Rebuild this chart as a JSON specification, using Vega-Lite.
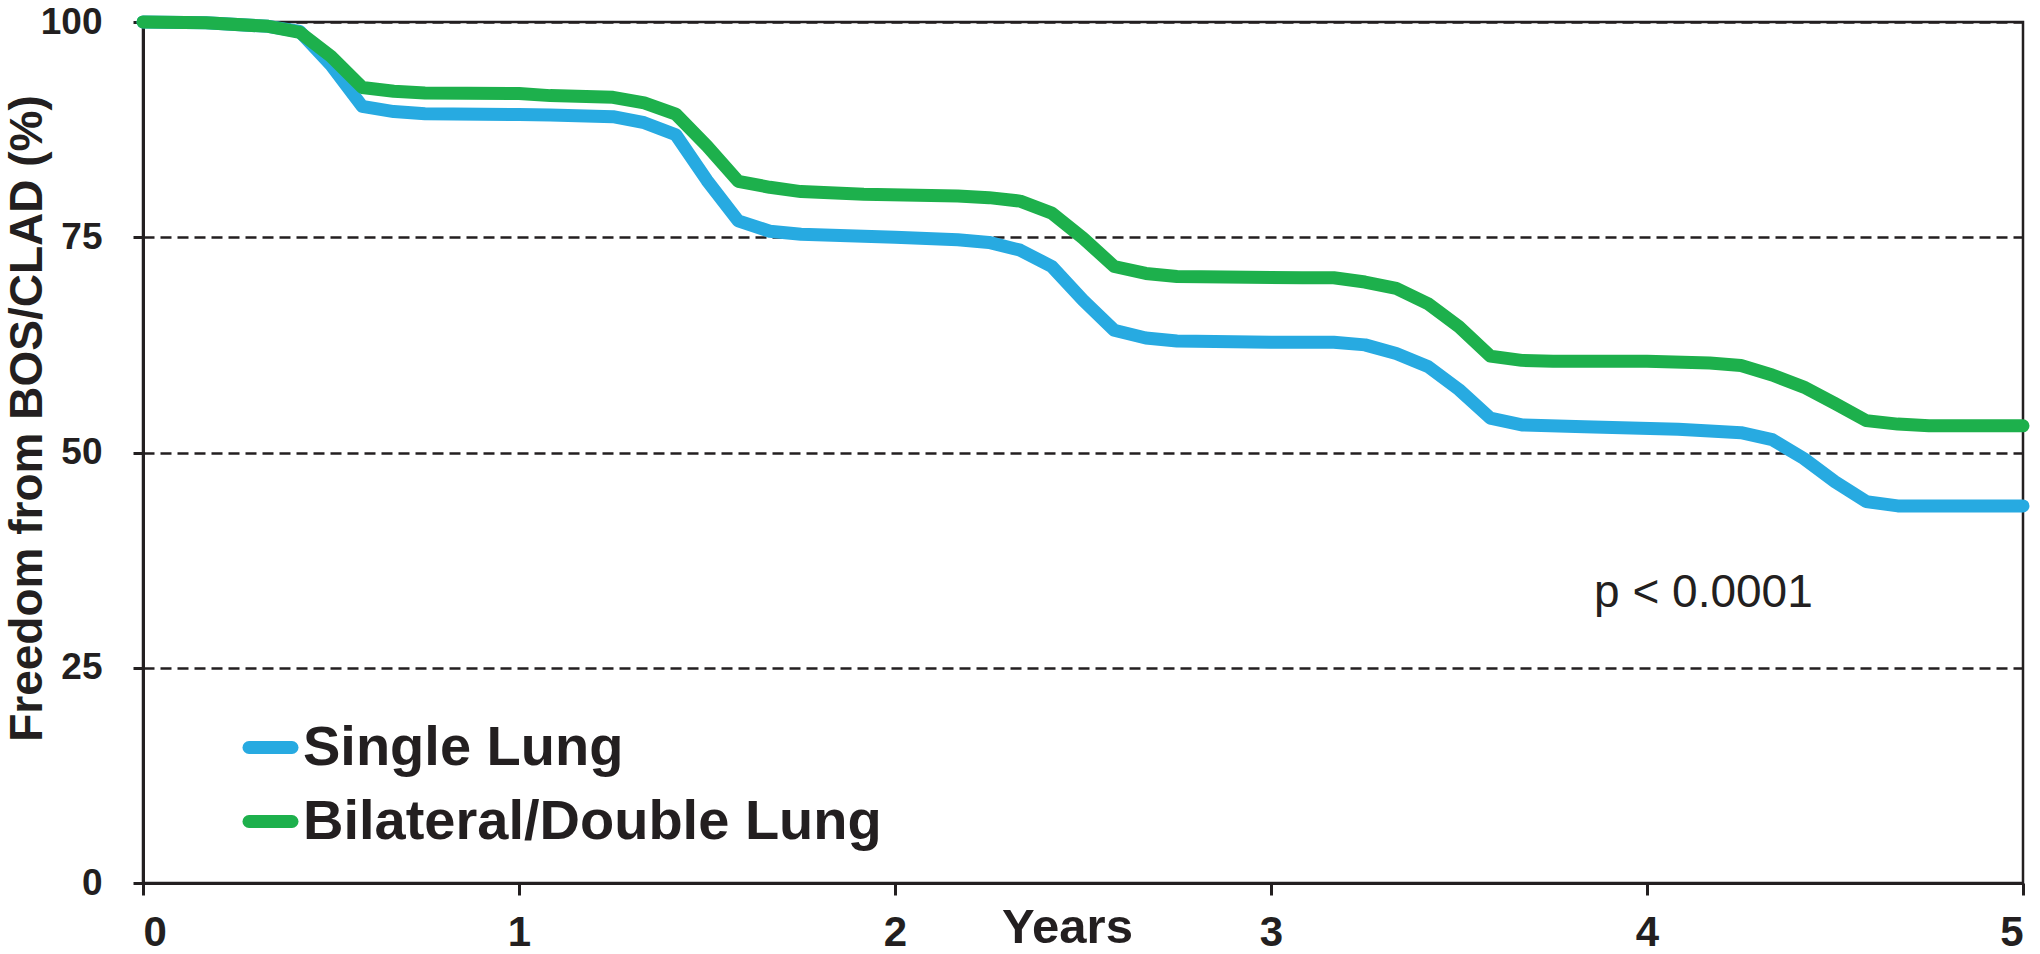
{
  "$schema": "https://vega.github.io/schema/vega-lite/v6.json",
  "width": 1880,
  "height": 861,
  "autosize": {"type": "none"},
  "padding": {"left": 143, "top": 22, "right": 17, "bottom": 71},
  "background": "white",
  "config": {
    "view": {"stroke": "#231F20", "strokeWidth": 2.5},
    "font": "Liberation Sans"
  },
  "layer": [
    {
      "data": {
        "values": [
          {"group": "Single Lung", "year": 0, "pct": 100},
          {"group": "Single Lung", "year": 0.167, "pct": 99.9},
          {"group": "Single Lung", "year": 0.333, "pct": 99.5},
          {"group": "Single Lung", "year": 0.417, "pct": 98.9},
          {"group": "Single Lung", "year": 0.5, "pct": 95.0},
          {"group": "Single Lung", "year": 0.583, "pct": 90.2},
          {"group": "Single Lung", "year": 0.667, "pct": 89.6},
          {"group": "Single Lung", "year": 0.75, "pct": 89.35},
          {"group": "Single Lung", "year": 1.0, "pct": 89.25},
          {"group": "Single Lung", "year": 1.083, "pct": 89.2},
          {"group": "Single Lung", "year": 1.25, "pct": 89.0},
          {"group": "Single Lung", "year": 1.333, "pct": 88.3},
          {"group": "Single Lung", "year": 1.417, "pct": 86.9},
          {"group": "Single Lung", "year": 1.5, "pct": 81.6},
          {"group": "Single Lung", "year": 1.583, "pct": 76.9},
          {"group": "Single Lung", "year": 1.667, "pct": 75.7},
          {"group": "Single Lung", "year": 1.75, "pct": 75.35},
          {"group": "Single Lung", "year": 2.0, "pct": 75.0},
          {"group": "Single Lung", "year": 2.167, "pct": 74.7},
          {"group": "Single Lung", "year": 2.25, "pct": 74.4},
          {"group": "Single Lung", "year": 2.333, "pct": 73.5},
          {"group": "Single Lung", "year": 2.417, "pct": 71.6},
          {"group": "Single Lung", "year": 2.5, "pct": 67.7},
          {"group": "Single Lung", "year": 2.583, "pct": 64.2},
          {"group": "Single Lung", "year": 2.667, "pct": 63.3},
          {"group": "Single Lung", "year": 2.75, "pct": 62.95},
          {"group": "Single Lung", "year": 3.0, "pct": 62.8},
          {"group": "Single Lung", "year": 3.167, "pct": 62.8},
          {"group": "Single Lung", "year": 3.25, "pct": 62.5},
          {"group": "Single Lung", "year": 3.333, "pct": 61.5},
          {"group": "Single Lung", "year": 3.417, "pct": 60.0},
          {"group": "Single Lung", "year": 3.5, "pct": 57.3},
          {"group": "Single Lung", "year": 3.583, "pct": 54.0},
          {"group": "Single Lung", "year": 3.667, "pct": 53.2},
          {"group": "Single Lung", "year": 3.833, "pct": 53.0},
          {"group": "Single Lung", "year": 4.083, "pct": 52.7},
          {"group": "Single Lung", "year": 4.167, "pct": 52.5},
          {"group": "Single Lung", "year": 4.25, "pct": 52.3},
          {"group": "Single Lung", "year": 4.333, "pct": 51.5},
          {"group": "Single Lung", "year": 4.417, "pct": 49.3},
          {"group": "Single Lung", "year": 4.5, "pct": 46.6},
          {"group": "Single Lung", "year": 4.583, "pct": 44.3},
          {"group": "Single Lung", "year": 4.667, "pct": 43.8},
          {"group": "Single Lung", "year": 5.0, "pct": 43.8},
          {"group": "Bilateral/Double Lung", "year": 0, "pct": 100},
          {"group": "Bilateral/Double Lung", "year": 0.167, "pct": 99.9},
          {"group": "Bilateral/Double Lung", "year": 0.333, "pct": 99.5},
          {"group": "Bilateral/Double Lung", "year": 0.417, "pct": 98.8},
          {"group": "Bilateral/Double Lung", "year": 0.5, "pct": 96.0},
          {"group": "Bilateral/Double Lung", "year": 0.583, "pct": 92.4},
          {"group": "Bilateral/Double Lung", "year": 0.667, "pct": 91.95},
          {"group": "Bilateral/Double Lung", "year": 0.75, "pct": 91.75},
          {"group": "Bilateral/Double Lung", "year": 1.0, "pct": 91.7},
          {"group": "Bilateral/Double Lung", "year": 1.083, "pct": 91.45},
          {"group": "Bilateral/Double Lung", "year": 1.25, "pct": 91.25},
          {"group": "Bilateral/Double Lung", "year": 1.333, "pct": 90.6},
          {"group": "Bilateral/Double Lung", "year": 1.417, "pct": 89.3},
          {"group": "Bilateral/Double Lung", "year": 1.5, "pct": 85.6},
          {"group": "Bilateral/Double Lung", "year": 1.583, "pct": 81.5},
          {"group": "Bilateral/Double Lung", "year": 1.667, "pct": 80.8},
          {"group": "Bilateral/Double Lung", "year": 1.75, "pct": 80.3},
          {"group": "Bilateral/Double Lung", "year": 1.917, "pct": 80.0},
          {"group": "Bilateral/Double Lung", "year": 2.167, "pct": 79.8},
          {"group": "Bilateral/Double Lung", "year": 2.25, "pct": 79.6},
          {"group": "Bilateral/Double Lung", "year": 2.333, "pct": 79.2},
          {"group": "Bilateral/Double Lung", "year": 2.417, "pct": 77.8},
          {"group": "Bilateral/Double Lung", "year": 2.5, "pct": 74.9},
          {"group": "Bilateral/Double Lung", "year": 2.583, "pct": 71.6},
          {"group": "Bilateral/Double Lung", "year": 2.667, "pct": 70.8},
          {"group": "Bilateral/Double Lung", "year": 2.75, "pct": 70.45},
          {"group": "Bilateral/Double Lung", "year": 3.083, "pct": 70.3},
          {"group": "Bilateral/Double Lung", "year": 3.167, "pct": 70.3},
          {"group": "Bilateral/Double Lung", "year": 3.25, "pct": 69.8},
          {"group": "Bilateral/Double Lung", "year": 3.333, "pct": 69.05},
          {"group": "Bilateral/Double Lung", "year": 3.417, "pct": 67.3},
          {"group": "Bilateral/Double Lung", "year": 3.5, "pct": 64.6},
          {"group": "Bilateral/Double Lung", "year": 3.583, "pct": 61.2},
          {"group": "Bilateral/Double Lung", "year": 3.667, "pct": 60.7},
          {"group": "Bilateral/Double Lung", "year": 3.75, "pct": 60.6},
          {"group": "Bilateral/Double Lung", "year": 4.0, "pct": 60.6},
          {"group": "Bilateral/Double Lung", "year": 4.167, "pct": 60.4},
          {"group": "Bilateral/Double Lung", "year": 4.25, "pct": 60.1},
          {"group": "Bilateral/Double Lung", "year": 4.333, "pct": 59.0},
          {"group": "Bilateral/Double Lung", "year": 4.417, "pct": 57.6},
          {"group": "Bilateral/Double Lung", "year": 4.5, "pct": 55.7},
          {"group": "Bilateral/Double Lung", "year": 4.583, "pct": 53.7},
          {"group": "Bilateral/Double Lung", "year": 4.667, "pct": 53.3},
          {"group": "Bilateral/Double Lung", "year": 4.75, "pct": 53.1},
          {"group": "Bilateral/Double Lung", "year": 5.0, "pct": 53.1}
        ]
      },
      "mark": {"type": "line", "strokeWidth": 13, "strokeCap": "round", "strokeJoin": "round"},
      "encoding": {
        "x": {
          "field": "year", "type": "quantitative",
          "scale": {"domain": [0, 5], "nice": false},
          "axis": {
            "values": [0, 1, 2, 3, 4, 5],
            "format": "d",
            "grid": false,
            "domainColor": "#231F20", "domainWidth": 3,
            "tickColor": "#231F20", "tickWidth": 3, "tickSize": 12,
            "labelFont": "Liberation Sans", "labelFontWeight": "bold", "labelFontSize": 42,
            "labelColor": "#231F20", "labelPadding": 17,
            "title": "Years",
            "titleFont": "Liberation Sans", "titleFontWeight": "bold", "titleFontSize": 49,
            "titleColor": "#231F20",
            "titleX": 924, "titleY": 59, "titleBaseline": "alphabetic", "titleAlign": "center"
          }
        },
        "y": {
          "field": "pct", "type": "quantitative",
          "scale": {"domain": [0, 100], "nice": false},
          "axis": {
            "values": [0, 25, 50, 75, 100],
            "grid": true, "gridColor": "#231F20", "gridWidth": 2.5, "gridDash": [11, 6], "gridOpacity": 1,
            "domainColor": "#231F20", "domainWidth": 3,
            "tickColor": "#231F20", "tickWidth": 3, "tickSize": 10,
            "labelFont": "Liberation Sans", "labelFontWeight": "bold", "labelFontSize": 37,
            "labelColor": "#231F20", "labelPadding": 31,
            "title": "Freedom from BOS/CLAD (%)",
            "titleFont": "Liberation Sans", "titleFontWeight": "bold", "titleFontSize": 46,
            "titleColor": "#231F20",
            "titleX": -116, "titleY": 396, "titleBaseline": "middle", "titleAlign": "center", "titleAngle": -90
          }
        },
        "color": {
          "field": "group", "type": "nominal",
          "scale": {"domain": ["Single Lung", "Bilateral/Double Lung"], "range": ["#27AAE1", "#1DB04C"]},
          "legend": {
            "title": null,
            "orient": "none",
            "legendX": 99,
            "legendY": 697,
            "padding": 0,
            "symbolType": "stroke",
            "symbolSize": 1850,
            "symbolStrokeWidth": 13,
            "labelFont": "Liberation Sans",
            "labelFontWeight": "bold",
            "labelFontSize": 56,
            "labelColor": "#231F20",
            "labelLimit": 800,
            "labelOffset": 4,
            "rowPadding": 17,
            "encode": {
              "symbols": {"update": {"strokeCap": {"value": "round"}}}
            }
          }
        }
      }
    },
    {
      "data": {"values": [{"year": 4.15, "pct": 33.7, "label": "p < 0.0001"}]},
      "mark": {"type": "text", "font": "Liberation Sans", "fontSize": 46, "color": "#231F20", "align": "center", "baseline": "middle"},
      "encoding": {
        "x": {"field": "year", "type": "quantitative"},
        "y": {"field": "pct", "type": "quantitative"},
        "text": {"field": "label"}
      }
    }
  ]
}
